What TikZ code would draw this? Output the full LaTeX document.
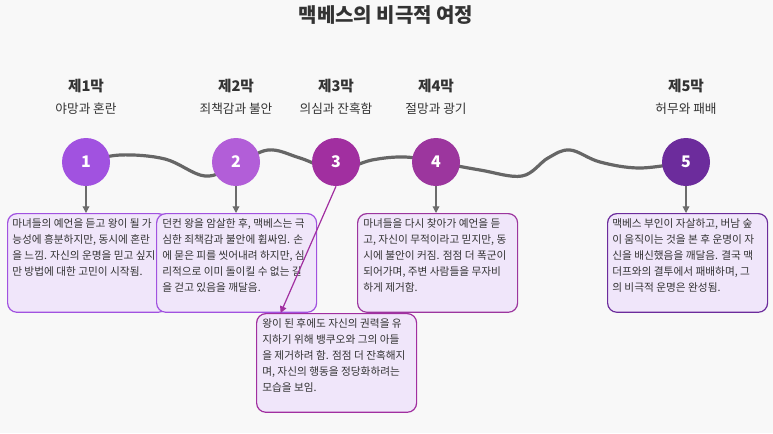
\documentclass[tikz,border=0pt]{standalone}
\usepackage{fontspec}
\setmainfont{Noto Sans CJK KR}
\usetikzlibrary{arrows.meta}
\definecolor{bg}{HTML}{F8F8F8}
\definecolor{boxfill}{HTML}{F0E6FA}
\definecolor{ca}{HTML}{A152E0}
\definecolor{cb}{HTML}{B25ED8}
\definecolor{cc}{HTML}{A12FA0}
\definecolor{cd}{HTML}{9C369E}
\definecolor{ce}{HTML}{6C2C9C}
\definecolor{txt}{HTML}{333333}
\tikzset{
  circ/.style={circle,minimum size=36pt,inner sep=0pt,text=white,font=\fontsize{12}{12}\selectfont\bfseries},
  hdr/.style={font=\fontsize{11}{11}\selectfont\bfseries,text=txt},
  sub/.style={font=\fontsize{9.5}{10}\selectfont,text=txt},
  desc/.style={draw,fill=boxfill,rounded corners=7pt,line width=0.9pt,minimum width=120pt,minimum height=74pt,anchor=north west,inner sep=0pt},
  dtext/.style={anchor=north west,align=left,text=txt,font=\fontsize{8}{12}\selectfont,inner sep=0pt},
  conn/.style={-{Triangle[length=5pt,width=5pt]},draw=gray!85!black,line width=0.9pt},
}
\begin{document}
\begin{tikzpicture}[x=0.75pt,y=-0.75pt]
\useasboundingbox[fill=bg] (0,0) rectangle (773,433);
\node[font=\fontsize{15}{15}\selectfont\bfseries,text=txt] (title) at (386,15) {맥베스의 비극적 여정};
\foreach \x/\n/\s [count=\i] in {86/제1막/야망과 혼란,236/제2막/죄책감과 불안,336/제3막/의심과 잔혹함,436/제4막/절망과 광기,686/제5막/허무와 패배}{
  \node[hdr] (h\i) at (\x,86) {\n};
  \node[sub] (s\i) at (\x,109) {\s};
}
\draw[line width=2.4pt,draw=gray!80!black,line cap=round] plot[smooth,tension=0.6] coordinates {(86,162)(120,155)(165,159)(205,176)(236,165)(268,150)(300,158)(336,170)(372,160)(405,157)(436,162)(480,170)(522,176)(548,158)(570,150)(600,162)(640,168)(686,162)};
\node[circ,fill=ca] (c1) at (86,162) {1};
\node[circ,fill=cb] (c2) at (236,162) {2};
\node[circ,fill=cc] (c3) at (336,162) {3};
\node[circ,fill=cd] (c4) at (436,162) {4};
\node[circ,fill=ce] (c5) at (686,162) {5};
% box 1
\node[desc,draw=ca] (b1) at (7,213) {};
\node[dtext] (t1) at (12,218) {마녀들의 예언을 듣고 왕이 될 가\\능성에 흥분하지만, 동시에 혼란\\을 느낌. 자신의 운명을 믿고 싶지\\만 방법에 대한 고민이 시작됨.};
\node[desc,draw=ca] (b2) at (156,213) {};
\node[dtext] (t2) at (162,218) {던컨 왕을 암살한 후, 맥베스는 극\\심한 죄책감과 불안에 휩싸임. 손\\에 묻은 피를 씻어내려 하지만, 심\\리적으로 이미 돌이킬 수 없는 길\\을 걷고 있음을 깨달음.};
\node[desc,draw=cc] (b3) at (256,313) {};
\node[dtext] (t3) at (262,318) {왕이 된 후에도 자신의 권력을 유\\지하기 위해 뱅쿠오와 그의 아들\\을 제거하려 함. 점점 더 잔혹해지\\며, 자신의 행동을 정당화하려는\\모습을 보임.};
\node[desc,draw=cd] (b4) at (357,213) {};
\node[dtext] (t4) at (363,218) {마녀들을 다시 찾아가 예언을 듣\\고, 자신이 무적이라고 믿지만, 동\\시에 불안이 커짐. 점점 더 폭군이\\되어가며, 주변 사람들을 무자비\\하게 제거함.};
\node[desc,draw=ce] (b5) at (607,213) {};
\node[dtext] (t5) at (612,218) {맥베스 부인이 자살하고, 버남 숲\\이 움직이는 것을 본 후 운명이 자\\신을 배신했음을 깨달음. 결국 맥\\더프와의 결투에서 패배하며, 그\\의 비극적 운명은 완성됨.};
\draw[conn] (c1.south) -- (c1.south |- b1.north);
\draw[conn] (c2.south) -- (c2.south |- b2.north);
\draw[conn,draw=cc] (c3.south) -- ([xshift=-42pt]b3.north);
\draw[conn] (c4.south) -- (c4.south |- b4.north);
\draw[conn] (c5.south) -- (c5.south |- b5.north);
\end{tikzpicture}
\end{document}
